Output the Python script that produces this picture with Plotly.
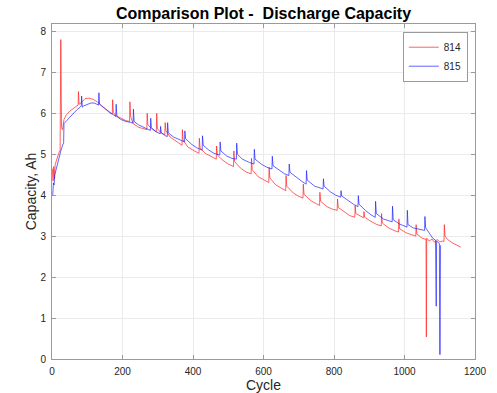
import plotly.graph_objects as go

# Series 814 (red): cycle, capacity (Ah) vertices
cyc_814 = [1, 3, 5, 7, 9, 12, 16, 20, 23, 25, 27, 30, 34, 40, 50, 60, 70, 74, 75, 77,
           82, 94, 105, 117, 128, 140, 152, 165, 171, 172, 174, 180, 195, 210, 220, 221, 223, 230, 245, 260,
           269, 270, 272, 285, 296, 297, 299, 310, 320, 321, 323, 335, 350, 360, 369, 370, 372, 385, 400, 410,
           417, 418, 420, 435, 450, 466, 467, 469, 485, 500, 515, 516, 518, 535, 550, 565, 566, 568, 585, 600,
           615, 616, 618, 635, 650, 663, 664, 666, 685, 700, 712, 713, 715, 735, 750, 759, 760, 762, 780, 795,
           809, 810, 812, 830, 845, 859, 860, 862, 875, 884, 885, 887, 905, 920, 934, 935, 937, 955, 970, 983,
           984, 986, 1005, 1020, 1032, 1033, 1035, 1050, 1061, 1062, 1063, 1070, 1078, 1085, 1092, 1100, 1108, 1112, 1113, 1115,
           1122, 1135, 1148, 1160]
cap_814 = [4.65, 4.35, 4.70, 4.40, 4.75, 4.85, 4.95, 5.05, 5.10, 7.80, 5.65, 5.60, 5.85, 5.95, 6.05, 6.12, 6.18, 6.20, 6.53, 6.22,
           6.25, 6.36, 6.37, 6.34, 6.28, 6.20, 6.10, 6.00, 5.98, 6.33, 6.02, 5.95, 5.88, 5.82, 5.80, 6.28, 5.92, 5.75, 5.66, 5.62,
           5.60, 6.00, 5.72, 5.60, 5.55, 6.00, 5.62, 5.52, 5.48, 5.77, 5.58, 5.42, 5.32, 5.27, 5.22, 5.60, 5.35, 5.18, 5.10, 5.05,
           5.02, 5.39, 5.15, 5.02, 4.95, 4.88, 5.20, 4.98, 4.85, 4.76, 4.70, 5.08, 4.82, 4.66, 4.57, 4.52, 4.90, 4.62, 4.45, 4.37,
           4.31, 4.68, 4.42, 4.25, 4.17, 4.11, 4.48, 4.22, 4.05, 3.97, 3.93, 4.27, 4.02, 3.86, 3.79, 3.75, 4.07, 3.85, 3.72, 3.66,
           3.63, 3.91, 3.70, 3.58, 3.50, 3.46, 3.75, 3.55, 3.48, 3.45, 3.60, 3.46, 3.36, 3.29, 3.25, 3.55, 3.32, 3.20, 3.14, 3.10,
           3.42, 3.18, 3.08, 3.03, 3.00, 3.28, 3.05, 2.95, 2.92, 0.54, 2.95, 2.88, 2.93, 2.85, 2.92, 2.86, 2.88, 2.87, 3.28, 3.00,
           2.92, 2.84, 2.78, 2.73]

# Series 815 (blue)
cyc_815 = [1, 2, 4, 6, 8, 12, 16, 20, 25, 30, 33, 34, 38, 42, 50, 60, 70, 80, 83, 84,
           86, 90, 100, 110, 120, 130, 132, 133, 135, 145, 155, 165, 175, 181, 182, 184, 195, 210, 222, 230,
           231, 233, 245, 260, 270, 279, 280, 282, 295, 307, 308, 310, 320, 327, 328, 330, 345, 360, 376, 377,
           379, 395, 410, 426, 427, 429, 445, 460, 476, 477, 479, 495, 510, 523, 524, 526, 540, 560, 573, 574,
           576, 595, 610, 624, 625, 627, 645, 660, 672, 673, 675, 695, 710, 721, 722, 724, 745, 760, 769, 770,
           772, 790, 805, 819, 820, 822, 840, 855, 868, 869, 871, 890, 905, 917, 918, 920, 940, 955, 965, 966,
           968, 985, 1000, 1007, 1008, 1010, 1025, 1040, 1057, 1058, 1060, 1070, 1080, 1088, 1090, 1091, 1095, 1099, 1100, 1101,
           1102, 1103]
cap_815 = [4.00, 3.98, 4.30, 4.25, 4.50, 4.65, 4.80, 4.95, 5.08, 5.22, 5.28, 5.75, 5.80, 5.82, 5.90, 6.00, 6.08, 6.15, 6.18, 6.42,
           6.15, 6.18, 6.22, 6.25, 6.25, 6.22, 6.20, 6.50, 6.22, 6.15, 6.08, 6.02, 5.95, 5.92, 6.22, 5.92, 5.85, 5.80, 5.78, 5.76,
           6.10, 5.80, 5.72, 5.66, 5.62, 5.58, 5.88, 5.65, 5.55, 5.50, 5.68, 5.52, 5.46, 5.43, 5.77, 5.52, 5.42, 5.37, 5.30, 5.57,
           5.38, 5.25, 5.16, 5.10, 5.45, 5.22, 5.10, 5.02, 4.98, 5.30, 5.08, 4.96, 4.90, 4.88, 5.27, 5.00, 4.88, 4.80, 4.76, 5.12,
           4.88, 4.75, 4.68, 4.64, 4.95, 4.72, 4.60, 4.52, 4.48, 4.76, 4.56, 4.42, 4.33, 4.27, 4.60, 4.37, 4.22, 4.18, 4.15, 4.40,
           4.22, 4.08, 4.00, 3.95, 4.11, 3.98, 3.86, 3.78, 3.72, 3.99, 3.78, 3.62, 3.52, 3.46, 3.85, 3.55, 3.42, 3.38, 3.35, 3.73,
           3.40, 3.30, 3.25, 3.22, 3.63, 3.28, 3.20, 3.17, 3.14, 3.48, 3.20, 3.08, 2.95, 2.90, 1.29, 2.88, 2.85, 2.82, 0.11, 0.11,
           2.75, 2.78]

x_ticks = [0, 200, 400, 600, 800, 1000, 1200]
y_ticks = [0, 1, 2, 3, 4, 5, 6, 7, 8]

FONT = "Liberation Sans, Arial, Helvetica, sans-serif"
AX_COL = "#9a9a9a"
GRID_COL = "#ebebeb"

fig = go.Figure()
fig.add_trace(go.Scatter(x=cyc_814, y=cap_814, mode="lines", name="814",
                         line=dict(color="#ff2020", width=0.7)))
fig.add_trace(go.Scatter(x=cyc_815, y=cap_815, mode="lines", name="815",
                         line=dict(color="#2020ff", width=0.7)))

axis_common = dict(showline=True, linecolor=AX_COL, linewidth=1, mirror="allticks",
                   ticks="inside", ticklen=4, tickcolor=AX_COL, automargin=False,
                   showgrid=True, gridcolor=GRID_COL, gridwidth=1, zeroline=False,
                   tickfont=dict(family=FONT, size=10, color="#262626"))

fig.update_xaxes(range=[0, 1200], tickvals=x_ticks, ticktext=[str(v) for v in x_ticks],
                 ticklabelstandoff=3,
                 title=dict(text="Cycle", font=dict(family=FONT, size=14, color="#262626"), standoff=3),
                 **axis_common)
fig.update_yaxes(range=[0, 8.18], tickvals=y_ticks, ticktext=[str(v) for v in y_ticks],
                 ticklabelstandoff=3,
                 title=dict(text="Capacity, Ah", font=dict(family=FONT, size=14, color="#262626"), standoff=0),
                 **axis_common)

fig.update_layout(
    width=497, height=393,
    margin=dict(l=52, r=22, t=24, b=34, autoexpand=False),
    paper_bgcolor="white", plot_bgcolor="white",
    title=dict(text="<b>Comparison Plot -  Discharge Capacity</b>", x=263.5 / 497,
               xanchor="center", y=1 - 13 / 393, yanchor="middle",
               font=dict(family=FONT, size=16, color="black")),
    legend=dict(x=0.983, y=0.977, xanchor="right", yanchor="top",
                bgcolor="white", bordercolor=AX_COL, borderwidth=1,
                font=dict(family=FONT, size=10, color="#262626"),
                tracegroupgap=0, itemwidth=30),
    showlegend=True,
)

fig.write_html("out.html")
